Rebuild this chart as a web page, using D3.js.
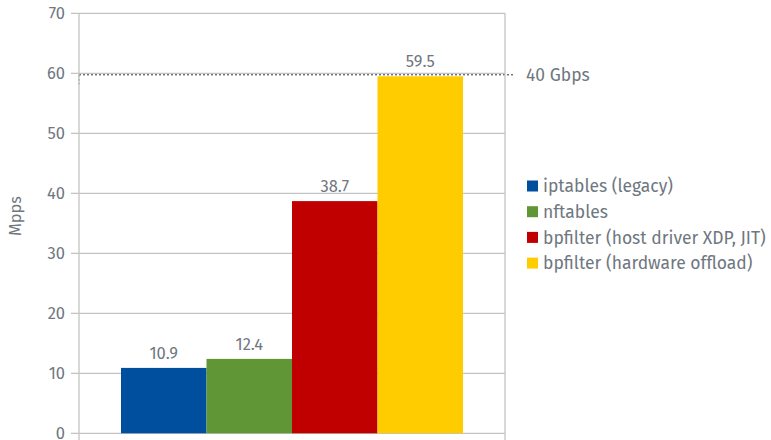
<!DOCTYPE html>
<html><head><meta charset="utf-8">
<script src="https://cdn.jsdelivr.net/npm/d3@7"></script>
<style>body{margin:0;background:#fff}svg{display:block}</style>
</head><body><svg id="c" width="771" height="440"></svg>
<script>
const categories = ["iptables (legacy)", "nftables", "bpfilter (host driver XDP, JIT)", "bpfilter (hardware offload)"];
const values = [10.9, 12.4, 38.7, 59.5];
const colors = ["#004f9f", "#619636", "#c00000", "#ffcc00"];
const yTicks = [0, 10, 20, 30, 40, 50, 60, 70];
const refValue = 59.5;
const refLabel = "40 Gbps";
const yLabel = "Mpps";

(function () {
const svg = d3.select("#c");
const font = "'Fira Sans','Noto Sans','Open Sans',sans-serif";
const textCol = "#6f7780";
const gridCol = "#c3c3c3";
const pLeft = 79, pRight = 505, pTop = 13.3, pBottom = 433.3;
const y = d3.scaleLinear().domain([0, 70]).range([pBottom, pTop]);
const x = d3.scaleBand().domain(categories).range([121, 463]).padding(0);

// reference line (under bars)
svg.append("line").attr("x1", pLeft).attr("x2", 515)
  .attr("y1", y(refValue) - 1.5).attr("y2", y(refValue) - 1.5)
  .attr("stroke", "#333").attr("stroke-width", 1).attr("stroke-dasharray", "2,2");
svg.append("line").attr("x1", pLeft).attr("x2", pLeft)
  .attr("y1", y(refValue) - 1.5).attr("y2", y(refValue) + 8)
  .attr("stroke", "#555").attr("stroke-width", 1).attr("stroke-dasharray", "2,2");

svg.append("g").selectAll("line").data(yTicks).join("line")
  .attr("x1", pLeft - 8).attr("x2", pRight)
  .attr("y1", d => y(d)).attr("y2", d => y(d))
  .attr("stroke", gridCol).attr("stroke-width", 1.3);
svg.append("line").attr("x1", pLeft).attr("x2", pLeft).attr("y1", pTop).attr("y2", 440)
  .attr("stroke", gridCol).attr("stroke-width", 1.3);
svg.append("line").attr("x1", pRight).attr("x2", pRight).attr("y1", pTop).attr("y2", 440)
  .attr("stroke", gridCol).attr("stroke-width", 1.3);

svg.append("g").selectAll("text").data(yTicks).join("text")
  .attr("x", 65).attr("y", d => y(d)).attr("dy", "0.35em")
  .attr("text-anchor", "end").attr("font-family", font).attr("font-size", 16.5)
  .attr("fill", textCol).text(d => d);

svg.append("text").attr("transform", "translate(21,216) rotate(-90)")
  .attr("text-anchor", "middle").attr("font-family", font).attr("font-size", 16.5)
  .attr("fill", textCol).text(yLabel);

svg.append("g").selectAll("rect").data(values).join("rect")
  .attr("x", (d, i) => x(categories[i])).attr("width", x.bandwidth())
  .attr("y", d => y(d)).attr("height", d => pBottom - y(d))
  .attr("fill", (d, i) => colors[i]);

svg.append("g").selectAll("text").data(values).join("text")
  .attr("x", (d, i) => x(categories[i]) + x.bandwidth() / 2)
  .attr("y", d => y(d) - 9)
  .attr("text-anchor", "middle").attr("font-family", font).attr("font-size", 16.5)
  .attr("fill", textCol).text(d => d.toFixed(1));

svg.append("text").attr("x", 526).attr("y", y(refValue) - 1.5).attr("dy", "0.35em")
  .attr("font-family", font).attr("font-size", 17.5).attr("fill", textCol).text(refLabel);

const lg = svg.append("g").selectAll("g").data(categories).join("g")
  .attr("transform", (d, i) => `translate(527,${186 + i * 25.7})`);
lg.append("rect").attr("x", 0).attr("y", -5.5).attr("width", 11).attr("height", 11)
  .attr("fill", (d, i) => colors[i]);
lg.append("text").attr("x", 16).attr("y", 0).attr("dy", "0.35em")
  .attr("font-family", font).attr("font-size", 17.5).attr("fill", textCol).text(d => d);
})();
</script></body></html>
